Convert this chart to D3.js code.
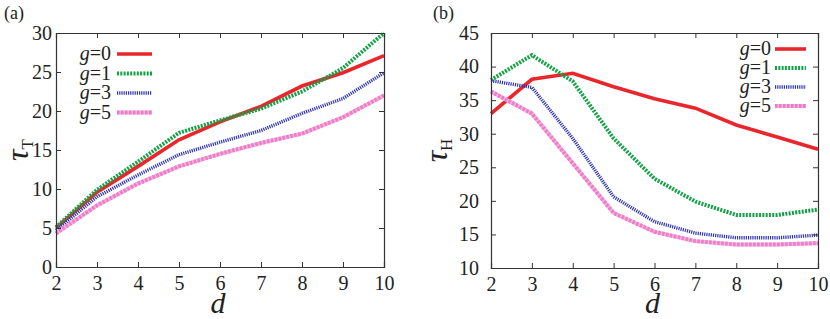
<!DOCTYPE html>
<html>
<head>
<meta charset="utf-8">
<script src="https://cdn.jsdelivr.net/npm/d3@7"></script>
<style>
  body { margin: 0; background: #fff; }
</style>
</head>
<body>
<svg id="chart" width="830" height="319"></svg>
<script>
// data
const dValues = [2, 3, 4, 5, 6, 7, 8, 9, 10];
const gLabels = ['0', '1', '3', '5'];

// (a) tau_T
const tauT_g0 = [5.0, 9.6, 12.9, 16.3, 18.6, 20.6, 23.2, 24.9, 27.1];
const tauT_g1 = [5.1, 9.9, 13.5, 17.2, 18.8, 20.3, 22.5, 25.5, 30.0];
const tauT_g3 = [4.7, 9.0, 11.8, 14.4, 16.0, 17.5, 19.7, 21.6, 24.9];
const tauT_g5 = [4.3, 7.9, 10.7, 12.9, 14.5, 15.9, 17.1, 19.2, 22.0];

// (b) tau_H
const tauH_g0 = [33.0, 38.1, 39.0, 37.0, 35.2, 33.8, 31.3, 29.5, 27.7];
const tauH_g1 = [38.0, 41.7, 37.8, 29.3, 23.3, 19.9, 17.9, 17.9, 18.7];
const tauH_g3 = [37.9, 36.9, 29.3, 20.6, 16.9, 15.2, 14.5, 14.5, 14.9];
const tauH_g5 = [36.3, 33.0, 25.6, 18.2, 15.4, 14.0, 13.5, 13.5, 13.7];

const yTicksA = [0, 5, 10, 15, 20, 25, 30];
const yTicksB = [10, 15, 20, 25, 30, 35, 40, 45];

const FONT = '"Liberation Serif", "DejaVu Serif", "Times New Roman", serif';

const styles = [
  { color: '#e8262b', width: 3.6, dash: null },
  { color: '#12a244', width: 4, dash: '2,1.3' },
  { color: '#2f35b4', width: 3.4, dash: '1.2,1' },
  { color: '#ee7cc8', width: 4, dash: '2.5,1.5', under: '#f6b3df' }
];

const svg = d3.select('#chart');

function panel(opts) {
  const x = d3.scaleLinear().domain([2, 10]).range([opts.left, opts.right]);
  const y = d3.scaleLinear().domain(opts.yDomain).range([opts.bottom, opts.top]);
  const g = svg.append('g');

  // lines
  const line = d3.line().x((v, i) => x(dValues[i])).y(v => y(v));
  opts.series.forEach((s, k) => {
    const st = styles[k];
    if (st.under) {
      g.append('path').attr('d', line(s)).attr('fill', 'none')
        .attr('stroke', st.under).attr('stroke-width', st.width);
    }
    g.append('path').attr('d', line(s)).attr('fill', 'none')
      .attr('stroke', st.color).attr('stroke-width', st.width)
      .attr('stroke-dasharray', st.dash);
  });

  // axes, gnuplot style ticks on all sides
  const inner = 5;
  g.append('g').attr('transform', `translate(0,${opts.bottom})`)
    .call(d3.axisBottom(x).tickValues(dValues).tickSize(-inner).tickPadding(9).tickFormat(d3.format('d')));
  g.append('g').attr('transform', `translate(0,${opts.top})`)
    .call(d3.axisTop(x).tickValues(dValues).tickSize(-inner).tickFormat(''));
  g.append('g').attr('transform', `translate(${opts.left},0)`)
    .call(d3.axisLeft(y).tickValues(opts.yTicks).tickSize(-inner).tickPadding(opts.yPad));
  g.append('g').attr('transform', `translate(${opts.right},0)`)
    .call(d3.axisRight(y).tickValues(opts.yTicks).tickSize(-inner).tickFormat(''));
  g.selectAll('.domain').attr('stroke', '#333').attr('stroke-width', 1.2);
  g.selectAll('.tick line').attr('stroke', '#333');
  g.selectAll('.tick text').style('font-size', '20px').attr('fill', '#222');

  // panel label
  g.append('text').attr('x', opts.labelX).attr('y', 19).style('font-size', '18px').text(opts.label);

  // axis titles
  g.append('text').attr('x', (opts.left + opts.right) / 2 - 2).attr('y', 313)
    .attr('text-anchor', 'middle').style('font-size', '30px').style('font-style', 'italic').text('d');
  const yt = g.append('text')
    .attr('transform', `translate(${opts.yTitleX},${(opts.top + opts.bottom) / 2}) rotate(-90)`)
    .attr('text-anchor', 'middle').style('font-size', '32px');
  yt.append('tspan').style('font-style', 'italic').text('τ');
  yt.append('tspan').attr('dy', 5).style('font-size', '17px').text(opts.sub);

  // legend
  gLabels.forEach((lab, k) => {
    const st = styles[k];
    const ly = opts.legY + k * opts.legStep;
    const t = g.append('text').attr('x', opts.legTextX).attr('y', ly + 6)
      .attr('text-anchor', 'end').style('font-size', '20px');
    t.append('tspan').style('font-style', 'italic').text('g');
    t.append('tspan').text('=' + lab);
    if (st.under) {
      g.append('line').attr('x1', opts.legX1).attr('x2', opts.legX2).attr('y1', ly).attr('y2', ly)
        .attr('stroke', st.under).attr('stroke-width', st.width);
    }
    g.append('line').attr('x1', opts.legX1).attr('x2', opts.legX2).attr('y1', ly).attr('y2', ly)
      .attr('stroke', st.color).attr('stroke-width', st.width).attr('stroke-dasharray', st.dash);
  });
}

panel({
  left: 56, right: 384, top: 33, bottom: 267, yDomain: [0, 30], yTicks: yTicksA, yPad: 4,
  series: [tauT_g0, tauT_g1, tauT_g3, tauT_g5],
  label: '(a)', labelX: 4, sub: 'T', yTitleX: 28,
  legY: 54, legStep: 19.5, legTextX: 111, legX1: 117, legX2: 152
});

panel({
  left: 491, right: 818, top: 33, bottom: 268, yDomain: [10, 45], yTicks: yTicksB, yPad: 12,
  series: [tauH_g0, tauH_g1, tauH_g3, tauH_g5],
  label: '(b)', labelX: 433, sub: 'H', yTitleX: 447,
  legY: 49, legStep: 19, legTextX: 771, legX1: 775, legX2: 806
});

// one serif face for every text, set on the elements themselves
svg.selectAll('text').style('font-family', FONT).attr('fill', '#222');
</script>
</body>
</html>
